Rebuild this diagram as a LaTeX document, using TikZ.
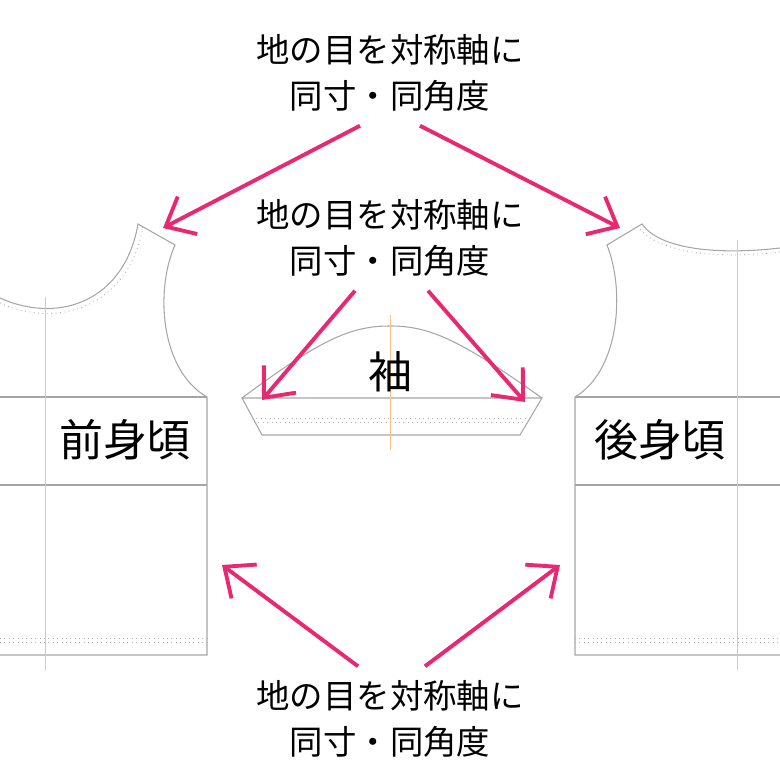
\documentclass[tikz,border=0pt]{standalone}
\usepackage{fontspec}
\newfontfamily\cjk{Noto Sans CJK JP}
\usetikzlibrary{arrows.meta}
\tikzset{
  pattern line/.style={draw=gray!70, line width=0.3pt},
  seam line/.style={draw=gray!60, line width=0.25pt, densely dotted},
  grain line/.style={draw=orange!50, line width=0.25pt},
  pink arrow/.style={draw={rgb,255:red,232;green,40;blue,112}, line width=1.1pt,
    -{Straight Barb[length=7pt,width=12pt,line width=1.1pt]}},
  note/.style={font=\cjk\fontsize{9.5}{13}\selectfont, align=center},
  part/.style={font=\cjk\fontsize{12.5}{14}\selectfont}
}
\begin{document}
\begin{tikzpicture}[x=0.01cm,y=-0.01cm]
\useasboundingbox (0,0) rectangle (780,780);
% front body
\draw[pattern line] (0,298) .. controls (60,325) and (125,300) .. (138,224) -- (175,245)
  .. controls (155,290) and (160,370) .. (207,397) -- (207,655) -- (0,655);
\draw[seam line] (0,303) .. controls (60,330) and (130,305) .. (143,226);
\draw[pattern line] (0,397) -- (207,397);
\draw[pattern line] (0,485) -- (207,485);
\draw[seam line] (0,638) -- (207,638);
\draw[seam line] (0,642) -- (207,642);
\draw[grain line] (45,297) -- (45,670);
% sleeve
\draw[pattern line] (242,398) .. controls (320,340) and (350,326) .. (390,326)
  .. controls (430,326) and (460,340) .. (542,398);
\draw[pattern line] (242,398) -- (542,398) -- (520,435) -- (262,435) -- cycle;
\draw[seam line] (252,418) -- (532,418);
\draw[seam line] (254,422) -- (530,422);
\draw[grain line] (390,315) -- (390,450);
% back body
\draw[pattern line] (780,248) .. controls (720,255) and (660,250) .. (642,224) -- (607,245)
  .. controls (625,290) and (620,370) .. (575,397) -- (575,655) -- (780,655);
\draw[seam line] (780,252) .. controls (720,259) and (660,254) .. (639,228);
\draw[pattern line] (575,397) -- (780,397);
\draw[pattern line] (575,485) -- (780,485);
\draw[seam line] (575,638) -- (780,638);
\draw[seam line] (575,642) -- (780,642);
\draw[grain line] (737,240) -- (737,670);
% labels
\node[part] (sleeve) at (390,372) {袖};
\node[part] (front) at (125,440) {前身頃};
\node[part] (back) at (660,440) {後身頃};
\node[note] (top) at (390,73) {地の目を対称軸に\\同寸・同角度};
\node[note] (mid) at (390,238) {地の目を対称軸に\\同寸・同角度};
\node[note] (bottom) at (390,719) {地の目を対称軸に\\同寸・同角度};
% arrows
\coordinate (frontShoulder) at (163,228);
\coordinate (backShoulder) at (620,228);
\coordinate (sleeveLeft) at (262,400);
\coordinate (sleeveRight) at (525,402);
\coordinate (frontSide) at (222,565);
\coordinate (backSide) at (560,565);
\draw[pink arrow] (top.south) ++(-30,2) -- (frontShoulder);
\draw[pink arrow] (top.south) ++(30,2) -- (backShoulder);
\draw[pink arrow] (mid.south) ++(-35,2) -- (sleeveLeft);
\draw[pink arrow] (mid.south) ++(38,2) -- (sleeveRight);
\draw[pink arrow] (bottom.north) ++(-32,-2) -- (frontSide);
\draw[pink arrow] (bottom.north) ++(35,-2) -- (backSide);
\end{tikzpicture}
\end{document}
